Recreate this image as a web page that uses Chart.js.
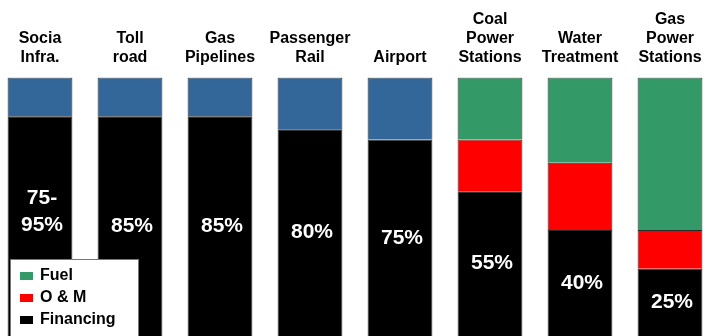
<!DOCTYPE html>
<html>
<head>
<meta charset="utf-8">
<script src="https://cdn.jsdelivr.net/npm/chart.js@4"></script>
<style>
  html, body { margin: 0; padding: 0; background: #fff; overflow: hidden; }
  #wrap { position: absolute; left: -5px; top: 0; width: 720px; height: 336px; }
</style>
</head>
<body>
<div id="wrap"><canvas id="chart" width="720" height="336"></canvas></div>
<script>
// categories (multi-line names as shown above the bars)
var categories = [
  ["Socia", "Infra."],
  ["Toll", "road"],
  ["Gas", "Pipelines"],
  ["Passenger", "Rail"],
  ["Airport"],
  ["Coal", "Power", "Stations"],
  ["Water", "Treatment"],
  ["Gas", "Power", "Stations"]
];

// share of cost, %
var financing = [85, 85, 85, 80, 76, 56, 41, 26];
var om        = [null, null, null, null, null, 20, 26, 15];
var fuel      = [null, null, null, null, null, 24, 33, 59];
var other     = [15, 15, 15, 20, 24, null, null, null];

// text written inside the black bars
var financingLabels = ["75-\n95%", "85%", "85%", "80%", "75%", "55%", "40%", "25%"];

var font = "'Liberation Sans', Arial, sans-serif";

// labels inside financing bars
var barText = {
  id: "barText",
  afterDatasetsDraw: function(chart) {
    var ctx = chart.ctx;
    var meta = chart.getDatasetMeta(0);
    ctx.save();
    ctx.fillStyle = "#fff";
    ctx.font = "bold 21px " + font;
    ctx.textAlign = "center";
    ctx.textBaseline = "middle";
    meta.data.forEach(function(bar, i) {
      var lines = financingLabels[i].split("\n");
      var cy = (bar.y + bar.base) / 2 - (lines.length > 1 ? 14 : 0);
      var lh = 27;
      lines.forEach(function(t, j) {
        ctx.fillText(t, bar.x + 2, cy + (j - (lines.length - 1) / 2) * lh);
      });
    });
    ctx.restore();
  }
};

// boxed legend sitting over the bottom-left of the plot
var boxLegend = {
  id: "boxLegend",
  afterDraw: function(chart) {
    var ctx = chart.ctx;
    var items = [2, 1, 0]; // Fuel, O & M, Financing
    var x0 = 15, y0 = 259;
    ctx.save();
    ctx.fillStyle = "#fff";
    ctx.fillRect(x0, y0, 128, 90);
    ctx.strokeStyle = "#777";
    ctx.lineWidth = 1;
    ctx.strokeRect(x0 + 0.5, y0 + 0.5, 128, 90);
    ctx.font = "bold 16px " + font;
    ctx.textBaseline = "middle";
    ctx.textAlign = "left";
    items.forEach(function(di, k) {
      var ds = chart.data.datasets[di];
      var cy = y0 + 17 + k * 22;
      ctx.fillStyle = ds.backgroundColor;
      ctx.fillRect(x0 + 10, cy - 4, 13, 8);
      ctx.fillStyle = "#000";
      ctx.fillText(ds.label, x0 + 30, cy);
    });
    ctx.restore();
  }
};

new Chart(document.getElementById("chart"), {
  type: "bar",
  data: {
    labels: categories,
    datasets: [
      { label: "Financing", data: financing, backgroundColor: "#000000" },
      { label: "O & M", data: om, backgroundColor: "#ff0000" },
      { label: "Fuel", data: fuel, backgroundColor: "#339966" },
      { label: "Other", data: other, backgroundColor: "#336699" }
    ]
  },
  options: {
    responsive: false,
    animation: false,
    devicePixelRatio: 1,
    layout: { padding: { top: 0, left: 0, right: 0, bottom: 0 } },
    datasets: {
      bar: {
        categoryPercentage: 1,
        barPercentage: 0.72,
        borderWidth: 1,
        borderColor: "#2a2a2a",
        borderSkipped: "start"
      }
    },
    scales: {
      x: {
        position: "top",
        stacked: true,
        border: { display: false },
        grid: { display: false, drawTicks: false },
        ticks: {
          color: "#000",
          padding: 10,
          maxRotation: 0,
          autoSkip: false,
          font: { family: font, size: 16, weight: "bold", lineHeight: 1.2 }
        }
      },
      y: {
        display: false,
        stacked: true,
        min: 0,
        max: 100
      }
    },
    plugins: {
      legend: { display: false },
      tooltip: { enabled: false }
    }
  },
  plugins: [barText, boxLegend]
});
</script>
</body>
</html>
